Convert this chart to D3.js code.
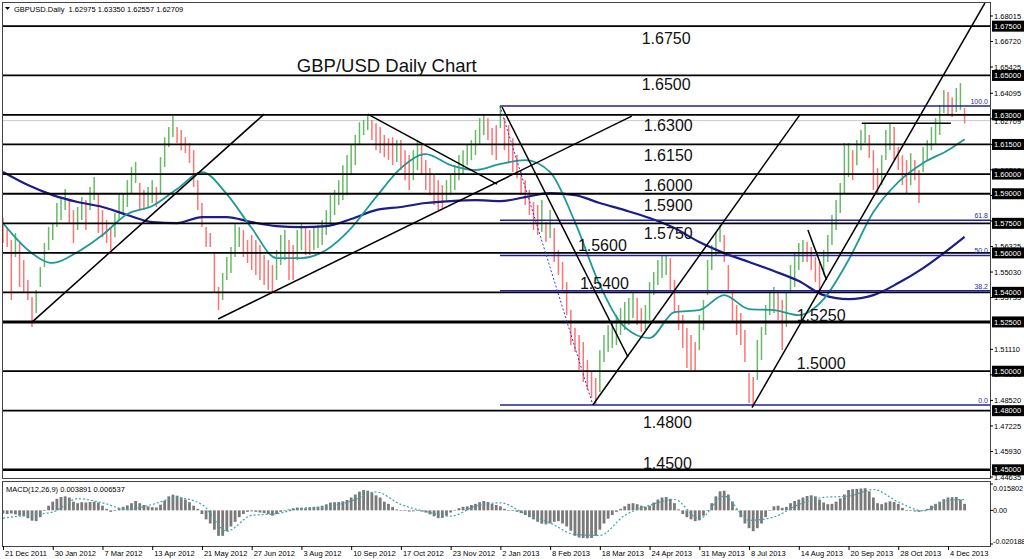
<!DOCTYPE html>
<html><head><meta charset="utf-8">
<script src="https://cdn.jsdelivr.net/npm/d3@7"></script>
<style>
body{margin:0;background:#fff}
svg{display:block}
text{font-family:'Liberation Sans',Arial,sans-serif}
</style></head>
<body><svg id="c" width="1024" height="559"></svg>
<script>
// ---------- DATA ----------
const dateLabels=["21 Dec 2011","30 Jan 2012","7 Mar 2012","13 Apr 2012","21 May 2012","27 Jun 2012","3 Aug 2012","10 Sep 2012","17 Oct 2012","23 Nov 2012","2 Jan 2013","8 Feb 2013","18 Mar 2013","24 Apr 2013","31 May 2013","8 Jul 2013","14 Aug 2013","20 Sep 2013","28 Oct 2013","4 Dec 2013"];
const barsPerLabel=12;
const highs=[1.5777,1.5731,1.5665,1.5701,1.5650,1.5564,1.5463,1.5376,1.5412,1.5528,1.5650,1.5731,1.5751,1.5853,1.5883,1.5924,1.5868,1.5817,1.5833,1.5883,
1.5868,1.5934,1.5985,1.5903,1.5817,1.5767,1.5731,1.5802,1.5903,1.5903,1.5969,1.6035,1.6061,1.5954,1.5919,1.5934,1.5969,1.5934,1.6086,1.6187,
1.6238,1.6294,1.6238,1.6223,1.6187,1.6157,1.6121,1.5969,1.5853,1.5731,1.5701,1.5599,1.5427,1.5498,1.5579,1.5630,1.5751,1.5731,1.5716,1.5665,
1.5691,1.5665,1.5640,1.5589,1.5564,1.5539,1.5615,1.5691,1.5716,1.5665,1.5640,1.5716,1.5751,1.5726,1.5716,1.5731,1.5741,1.5767,1.5817,1.5893,
1.5919,1.5969,1.6045,1.6096,1.6147,1.6198,1.6263,1.6274,1.6299,1.6274,1.6258,1.6238,1.6198,1.6182,1.6187,1.6172,1.6172,1.6121,1.6096,1.6121,
1.6172,1.6147,1.6071,1.6030,1.5995,1.5969,1.5944,1.5969,1.5995,1.6045,1.6096,1.6121,1.6147,1.6172,1.6223,1.6284,1.6299,1.6284,1.6233,1.6248,
1.6345,1.6284,1.6248,1.6182,1.6096,1.6020,1.5969,1.5919,1.5858,1.5843,1.5868,1.5756,1.5817,1.5726,1.5615,1.5554,1.5452,1.5310,1.5219,1.5184,
1.5148,1.5057,1.4996,1.4966,1.5107,1.5184,1.5234,1.5249,1.5285,1.5320,1.5351,1.5371,1.5402,1.5371,1.5320,1.5336,1.5452,1.5503,1.5564,1.5589,
1.5589,1.5574,1.5463,1.5336,1.5285,1.5219,1.5184,1.5148,1.5285,1.5361,1.5564,1.5640,1.5706,1.5741,1.5691,1.5539,1.5412,1.5336,1.5295,1.5209,
1.4991,1.4971,1.5158,1.5224,1.5336,1.5412,1.5427,1.5412,1.5361,1.5397,1.5539,1.5599,1.5650,1.5665,1.5655,1.5630,1.5579,1.5554,1.5615,1.5691,
1.5792,1.5868,1.5954,1.6157,1.6157,1.6121,1.6172,1.6223,1.6258,1.6198,1.6121,1.6030,1.6096,1.6223,1.6258,1.6238,1.6137,1.6096,1.6071,1.6106,
1.6071,1.6020,1.6137,1.6172,1.6238,1.6284,1.6350,1.6426,1.6416,1.6390,1.6436,1.6461,1.6335];
const lows=[1.5650,1.5630,1.5361,1.5579,1.5427,1.5397,1.5361,1.5224,1.5295,1.5427,1.5528,1.5615,1.5665,1.5731,1.5767,1.5817,1.5751,1.5650,1.5716,1.5767,
1.5716,1.5817,1.5868,1.5701,1.5680,1.5650,1.5615,1.5680,1.5767,1.5802,1.5833,1.5903,1.5954,1.5817,1.5817,1.5833,1.5853,1.5833,1.5903,1.6035,
1.6137,1.6187,1.6157,1.6121,1.6106,1.6056,1.5934,1.5817,1.5731,1.5630,1.5630,1.5397,1.5310,1.5361,1.5463,1.5498,1.5579,1.5630,1.5579,1.5549,
1.5513,1.5488,1.5463,1.5437,1.5412,1.5397,1.5463,1.5539,1.5564,1.5463,1.5463,1.5564,1.5615,1.5589,1.5589,1.5615,1.5625,1.5640,1.5691,1.5741,
1.5792,1.5843,1.5868,1.5893,1.5995,1.6045,1.6147,1.6198,1.6223,1.6172,1.6121,1.6106,1.6086,1.6071,1.6045,1.6061,1.6020,1.5969,1.5919,1.5969,
1.6020,1.5995,1.5919,1.5893,1.5843,1.5817,1.5827,1.5868,1.5893,1.5919,1.5969,1.5995,1.6045,1.6071,1.6096,1.6147,1.6198,1.6172,1.6096,1.6071,
1.6233,1.6121,1.6061,1.6010,1.5980,1.5893,1.5843,1.5792,1.5716,1.5691,1.5706,1.5655,1.5675,1.5554,1.5488,1.5412,1.5285,1.5133,1.5097,1.5006,
1.4945,1.4905,1.4864,1.4829,1.4895,1.5047,1.5097,1.5118,1.5133,1.5184,1.5209,1.5234,1.5270,1.5234,1.5199,1.5209,1.5260,1.5386,1.5437,1.5473,
1.5488,1.5402,1.5300,1.5209,1.5118,1.5016,1.5006,1.4996,1.5107,1.5209,1.5386,1.5513,1.5589,1.5655,1.5554,1.5412,1.5249,1.5184,1.5133,1.5047,
1.4839,1.4819,1.4956,1.5057,1.5184,1.5285,1.5295,1.5260,1.5107,1.5224,1.5397,1.5427,1.5513,1.5554,1.5554,1.5513,1.5452,1.5412,1.5488,1.5554,
1.5640,1.5716,1.5802,1.5903,1.5985,1.5969,1.6045,1.6121,1.6157,1.6081,1.5919,1.5903,1.5944,1.6071,1.6121,1.6071,1.6020,1.5944,1.5903,1.5944,
1.5969,1.5853,1.6010,1.6071,1.6121,1.6147,1.6198,1.6309,1.6299,1.6289,1.6314,1.6324,1.6256];
const maIdx=[0,6,12,18,24,30,36,42,48,54,60,66,72,78,84,90,96,102,108,114,120,126,132,138,144,150,156,162,168,174,180,186,192,198,204,210,216,222,228,232];
const maFast=[1.5751,1.5615,1.5549,1.5605,1.5691,1.5797,1.5838,1.5924,1.6010,1.5898,1.5726,1.5574,1.5574,1.5615,1.5726,1.5883,1.6030,1.6101,1.6045,1.6020,
1.6051,1.6071,1.6010,1.5756,1.5437,1.5224,1.5168,1.5300,1.5310,1.5386,1.5315,1.5310,1.5285,1.5366,1.5564,1.5807,1.5959,1.6056,1.6121,1.6177];
const maSlow=[1.6010,1.5944,1.5893,1.5858,1.5833,1.5792,1.5756,1.5751,1.5782,1.5782,1.5756,1.5736,1.5731,1.5736,1.5772,1.5817,1.5833,1.5853,1.5863,1.5868,
1.5863,1.5883,1.5903,1.5893,1.5853,1.5817,1.5777,1.5726,1.5655,1.5599,1.5554,1.5508,1.5457,1.5386,1.5366,1.5386,1.5447,1.5523,1.5615,1.5681];
const macd=[-0.0019,-0.0022,-0.0019,-0.0024,-0.0032,-0.0036,-0.0047,-0.0062,-0.0065,-0.0041,-0.0004,0.0028,0.0052,0.0069,0.0080,0.0084,0.0077,0.0052,0.0043,0.0049,
0.0047,0.0050,0.0052,0.0047,0.0028,0.0009,-0.0009,-0.0002,0.0013,0.0021,0.0030,0.0043,0.0056,0.0043,0.0032,0.0024,0.0019,0.0017,0.0034,0.0058,
0.0084,0.0094,0.0088,0.0077,0.0065,0.0049,0.0028,0.0009,-0.0022,-0.0054,-0.0079,-0.0116,-0.0153,-0.0153,-0.0125,-0.0097,-0.0069,-0.0041,-0.0022,-0.0009,
-0.0006,-0.0009,-0.0013,-0.0017,-0.0022,-0.0032,-0.0022,-0.0009,0.0002,0.0006,0.0013,0.0017,0.0015,0.0013,0.0017,0.0021,0.0022,0.0028,0.0036,0.0047,
0.0049,0.0050,0.0054,0.0062,0.0077,0.0095,0.0112,0.0122,0.0118,0.0107,0.0090,0.0077,0.0052,0.0039,0.0021,0.0006,0.0000,-0.0004,-0.0007,-0.0006,
-0.0004,-0.0007,-0.0013,-0.0024,-0.0036,-0.0047,-0.0045,-0.0032,-0.0013,0.0002,0.0013,0.0021,0.0024,0.0032,0.0039,0.0049,0.0056,0.0050,0.0039,0.0032,
0.0024,0.0009,0.0002,-0.0004,-0.0009,-0.0017,-0.0028,-0.0041,-0.0054,-0.0069,-0.0080,-0.0084,-0.0079,-0.0069,-0.0065,-0.0079,-0.0097,-0.0122,-0.0153,-0.0163,
-0.0166,-0.0168,-0.0166,-0.0153,-0.0116,-0.0079,-0.0050,-0.0028,-0.0009,0.0009,0.0024,0.0039,0.0043,0.0037,0.0028,0.0021,0.0028,0.0047,0.0065,0.0077,
0.0080,0.0069,0.0043,0.0006,-0.0022,-0.0041,-0.0054,-0.0065,-0.0060,-0.0032,0.0002,0.0043,0.0084,0.0114,0.0118,0.0095,0.0052,0.0006,-0.0041,-0.0079,
-0.0107,-0.0125,-0.0107,-0.0079,-0.0041,0.0002,0.0024,0.0028,0.0015,0.0021,0.0043,0.0056,0.0065,0.0077,0.0086,0.0090,0.0084,0.0065,0.0047,0.0037,
0.0039,0.0052,0.0071,0.0095,0.0122,0.0127,0.0129,0.0131,0.0133,0.0114,0.0077,0.0043,0.0037,0.0047,0.0054,0.0050,0.0039,0.0015,0.0002,-0.0002,
-0.0007,-0.0009,-0.0002,0.0009,0.0028,0.0039,0.0052,0.0067,0.0077,0.0079,0.0080,0.0065,0.0039];
const signal=[-0.0047,-0.0028,-0.0010,0.0070,0.0045,0.0005,0.0035,0.0075,0.0035,-0.0125,-0.0030,-0.0020,0.0012,0.0022,0.0055,0.0110,0.0035,-0.0007,-0.0035,0.0025,
0.0045,-0.0020,-0.0075,-0.0145,-0.0150,-0.0030,0.0030,0.0065,-0.0050,0.0085,-0.0060,-0.0040,0.0035,0.0078,0.0085,0.0125,0.0050,-0.0003,0.0060,0.0065];
const levels=[1.6750,1.6500,1.6300,1.6150,1.6000,1.5900,1.5750,1.5600,1.5400,1.5250,1.5000,1.4800,1.4500];
const priceTicks=[1.68015,1.66720,1.65425,1.64095,1.62800,1.61505,1.60210,1.58915,1.57620,1.56325,1.55030,1.53735,1.51110,1.49815,1.48520,1.47225,1.45930,1.44635];
const macdTicks=[0.015802,0,-0.020188];
const lastPrice=1.62709;
const fibLow=1.4829, fibHigh=1.6345, fibRatios=[0,38.2,50,61.8,100];
const fibStart=[119.9,142.3]; // bar index of high and low
// trendlines: [barIndex1, price1, barIndex2, price2]
const trendlines=[[7.0,1.5249,63.0,1.6304],[51.9,1.5265,151.7,1.6294],[88.0,1.6304,119.2,1.5949],
[120.4,1.6340,150.8,1.5072],[142.3,1.4829,192.2,1.6299],[180.7,1.4815,236.9,1.6867],[194.2,1.5716,198.7,1.5463],
[207.2,1.6258,228.7,1.6258]];
const headerText="GBPUSD.Daily  1.62975 1.63350 1.62557 1.62709";
const macdText="MACD(12,26,9) 0.003891 0.006537";
const title="GBP/USD Daily Chart";

// ---------- LAYOUT ----------
const L=3,R=990,mT=3,mB=478,sT=482,sB=546;
const x=d3.scaleLinear().domain([0,(dateLabels.length-1)*barsPerLabel]).range([3,948]);
const y=d3.scaleLinear().domain([1.44585,1.68674]).range([mB,mT]);
const ym=d3.scaleLinear().domain([-0.020188,0.015802]).range([544,484]);
// level label placement: [bar index, vertical offset px]
const levelLabelPos=[[154.1,12],[154.1,9],[154.6,10],[154.6,11],[154.6,11],[154.6,11],[154.6,10],[138.7,-8],[139.2,-9],[191.5,-7],[191.5,-8],[154.4,12],[154.4,-7]];
const levelWidth={1.525:3,1.45:2.6};

const svg=d3.select('#c');
const defs=svg.append('defs');
defs.append('clipPath').attr('id','cm').append('rect').attr('x',L).attr('y',mT).attr('width',R-L).attr('height',mB-mT);
defs.append('clipPath').attr('id','cs').append('rect').attr('x',L).attr('y',sT).attr('width',R-L).attr('height',sB-sT);

const gm=svg.append('g').attr('clip-path','url(#cm)');
// current price line
gm.append('line').attr('x1',L).attr('x2',R).attr('y1',y(lastPrice)).attr('y2',y(lastPrice)).attr('stroke','#c8c8c8').attr('stroke-width',1);

// bars
const mid=i=>(highs[i]+lows[i])/2;
gm.append('g').selectAll('line').data(highs).join('line')
 .attr('x1',(d,i)=>x(i)).attr('x2',(d,i)=>x(i))
 .attr('y1',d=>y(d)).attr('y2',(d,i)=>y(lows[i]))
 .attr('stroke',(d,i)=>(i>0&&mid(i)>=mid(i-1))?'#66ba66':'#ff7373')
 .attr('stroke-width',1.5);

// moving averages
const maLine=arr=>d3.line().x((d,k)=>x(maIdx[k])).y(d=>y(d)).curve(d3.curveMonotoneX)(arr);
gm.append('path').attr('d',maLine(maSlow)).attr('fill','none').attr('stroke','#1c1c8a').attr('stroke-width',2.2);
gm.append('path').attr('d',maLine(maFast)).attr('fill','none').attr('stroke','#1e9a96').attr('stroke-width',1.8);

// level lines
gm.append('g').selectAll('line').data(levels).join('line')
 .attr('x1',L).attr('x2',R).attr('y1',d=>y(d)).attr('y2',d=>y(d))
 .attr('stroke','#000').attr('stroke-width',d=>levelWidth[d]||1.8);

// fibonacci
const fibVals=fibRatios.map(r=>fibLow+(fibHigh-fibLow)*r/100);
gm.append('g').selectAll('line').data(fibVals).join('line')
 .attr('x1',x(fibStart[0])).attr('x2',R).attr('y1',d=>y(d)).attr('y2',d=>y(d))
 .attr('stroke','#22229a').attr('stroke-width',1.6);
gm.append('line').attr('x1',x(fibStart[0])).attr('y1',y(fibHigh)).attr('x2',x(fibStart[1])).attr('y2',y(fibLow))
 .attr('stroke','#3a3ad0').attr('stroke-width',1).attr('stroke-dasharray','2,2');
gm.append('g').selectAll('text').data(fibRatios).join('text')
 .attr('x',R-2).attr('y',(d,k)=>y(fibVals[k])-2).attr('text-anchor','end')
 .attr('font-size',7).attr('fill','#2a2aa8').text(d=>d.toFixed(1));

// trendlines
gm.append('g').selectAll('line').data(trendlines).join('line')
 .attr('x1',d=>x(d[0])).attr('y1',d=>y(d[1])).attr('x2',d=>x(d[2])).attr('y2',d=>y(d[3]))
 .attr('stroke','#000').attr('stroke-width',1.5);

// level labels
gm.append('g').selectAll('text').data(levels).join('text')
 .attr('x',(d,k)=>x(levelLabelPos[k][0])).attr('y',(d,k)=>y(d)+levelLabelPos[k][1]).attr('dy','0.36em')
 .attr('font-size',16).attr('fill','#111').text(d=>d.toFixed(4));

// title
gm.append('text').attr('x',x(70.9)).attr('y',y(1.6552)).attr('dy','0.36em').attr('font-size',18.5).attr('fill','#111').text(title);

// header
svg.append('path').attr('d','M5,7 L10,7 L7.5,10 Z').attr('fill','#000');
svg.append('text').attr('x',14).attr('y',9).attr('dy','0.35em').attr('font-size',7.5).attr('fill','#000').text(headerText).style('white-space','pre');

// MACD panel
const gs=svg.append('g').attr('clip-path','url(#cs)');
gs.append('g').selectAll('rect').data(macd).join('rect')
 .attr('x',(d,i)=>x(i)-1.4).attr('width',2.8)
 .attr('y',d=>Math.min(ym(d),ym(0))).attr('height',d=>Math.max(0.6,Math.abs(ym(d)-ym(0))))
 .attr('fill','#7a7a7a');
gs.append('path').attr('d',d3.line().x((d,k)=>x(maIdx[k])).y(d=>ym(d)).curve(d3.curveMonotoneX)(signal))
 .attr('fill','none').attr('stroke','#39a8a8').attr('stroke-width',1.2).attr('stroke-dasharray','2,2');
svg.append('text').attr('x',6).attr('y',489).attr('dy','0.35em').attr('font-size',7.5).attr('fill','#000').text(macdText);

// panel borders
svg.append('rect').attr('x',2.5).attr('y',2.5).attr('width',R-2).attr('height',mB-2).attr('fill','none').attr('stroke','#444');
svg.append('rect').attr('x',2.5).attr('y',sT-0.5).attr('width',R-2).attr('height',sB-sT+1).attr('fill','none').attr('stroke','#444');

// right axis
const AX=R+3;
const ax=svg.append('g');
ax.selectAll('line.t').data(priceTicks).join('line').attr('x1',R).attr('x2',R+3).attr('y1',d=>y(d)).attr('y2',d=>y(d)).attr('stroke','#000');
ax.selectAll('text.t').data(priceTicks).join('text').attr('x',AX+1).attr('y',d=>y(d)).attr('dy','0.35em').attr('font-size',7.5).attr('fill','#000').text(d=>d.toFixed(5));
ax.append('text').attr('x',AX+1).attr('y',y(lastPrice)+1).attr('dy','0.35em').attr('font-size',7.5).attr('fill','#000').text(lastPrice.toFixed(5));
const lb=ax.selectAll('g.lv').data(levels).join('g');
lb.append('rect').attr('x',R+2).attr('y',d=>y(d)-5.5).attr('width',34).attr('height',11).attr('fill','#000');
lb.append('text').attr('x',AX+1).attr('y',d=>y(d)).attr('dy','0.35em').attr('font-size',7.5).attr('fill','#fff').text(d=>d.toFixed(5));
// macd axis
ax.selectAll('text.m').data(macdTicks).join('text').attr('x',AX)
 .attr('y',d=>Math.max(488,Math.min(541,ym(d)))).attr('dy','0.35em').attr('font-size',7.2).attr('fill','#000')
 .text(d=>d===0?'0.00':d.toFixed(6));
ax.selectAll('line.m').data(macdTicks).join('line').attr('x1',R).attr('x2',R+3).attr('y1',d=>ym(d)).attr('y2',d=>ym(d)).attr('stroke','#000');

// bottom axis
const bx=svg.append('g');
bx.selectAll('line').data(dateLabels).join('line').attr('x1',(d,k)=>x(k*barsPerLabel)+0.5).attr('x2',(d,k)=>x(k*barsPerLabel)+0.5)
 .attr('y1',sB).attr('y2',sB+4).attr('stroke','#000');
bx.selectAll('text').data(dateLabels).join('text').attr('x',(d,k)=>x(k*barsPerLabel)+2).attr('y',553).attr('dy','0.35em')
 .attr('font-size',7.5).attr('fill','#000').text(d=>d);
</script></body></html>
